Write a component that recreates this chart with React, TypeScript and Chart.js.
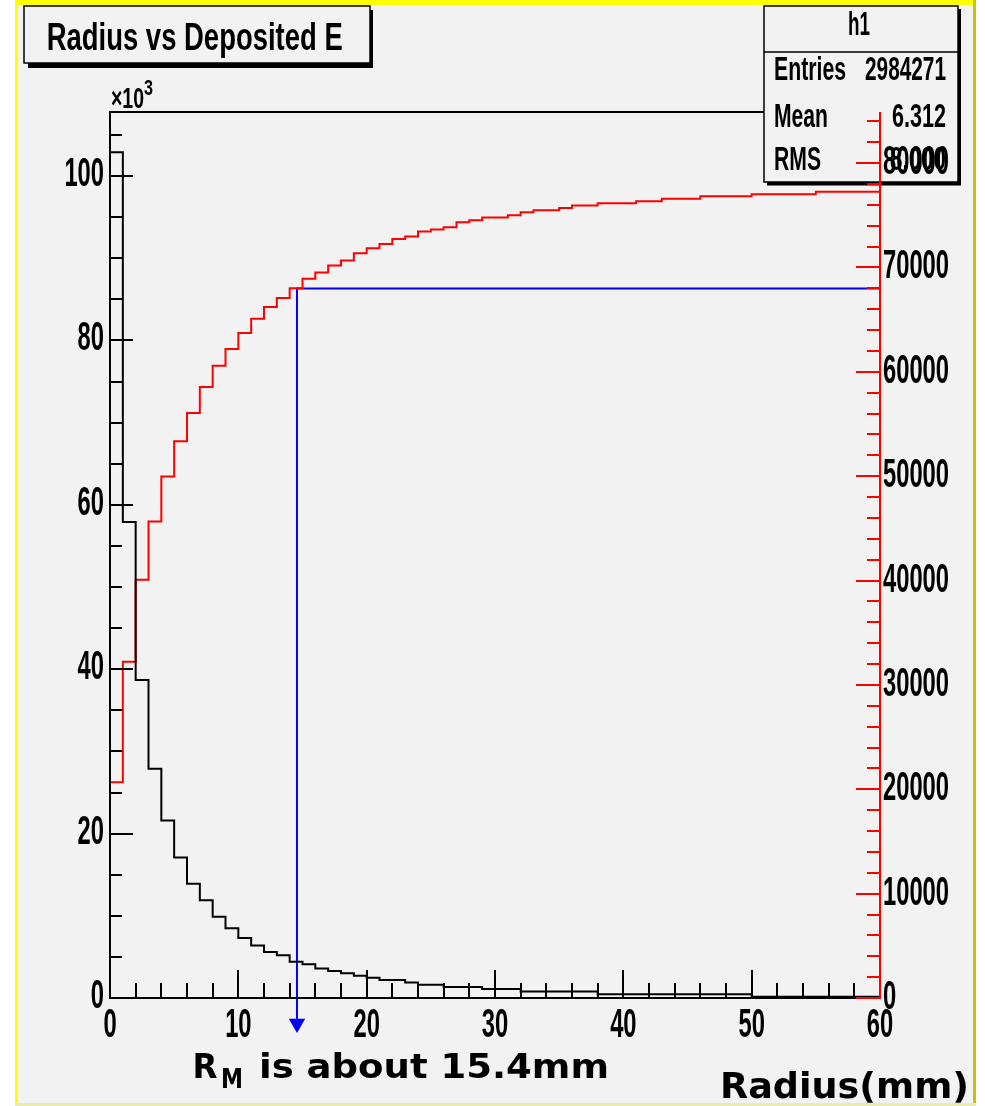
import React, { useEffect, useRef } from 'react';
import { Chart, registerables } from 'chart.js';

Chart.register(...registerables);

// ---- data ----
const X_MIN = 0;
const X_MAX = 60;
const BIN_WIDTH = 1; // mm

// energy per radial bin (x10^3), left axis
const DEPOSIT_K = [
  102.9, 57.9, 38.7, 27.9, 21.6, 17.1, 13.9, 11.9, 9.9, 8.5,
  7.3, 6.4, 5.6, 5.2, 4.4, 4.1, 3.6, 3.3, 3.0, 2.7,
  2.45, 2.2, 2.2, 1.9, 1.6, 1.6, 1.35, 1.35, 1.35, 1.1,
  1.1, 1.1, 0.8, 0.8, 0.8, 0.8, 0.8, 0.8, 0.45, 0.45,
  0.45, 0.45, 0.45, 0.45, 0.45, 0.45, 0.45, 0.45, 0.45, 0.45,
  0.16, 0.16, 0.16, 0.16, 0.16, 0.16, 0.16, 0.16, 0.16, 0.16,
];

// cumulative deposit, right (red) axis
const CUMULATIVE = [
  20680, 32210, 40080, 45670, 49980, 53340, 56060, 58550, 60590, 62190,
  63720, 65100, 66220, 67080, 68010, 68920, 69530, 70200, 70680, 71360,
  71840, 72260, 72740, 72960, 73440, 73630, 73860, 74330, 74530, 74780,
  74780, 75000, 75290, 75480, 75480, 75700, 75930, 75930, 76150, 76150,
  76150, 76350, 76350, 76580, 76580, 76580, 76830, 76830, 76830, 76830,
  77020, 77020, 77020, 77020, 77020, 77250, 77250, 77250, 77250, 77250,
];

const RM_X = 14.57;
const RM_LEVEL = 67980;
const RM_ARROW_END = -2450;

const Y_MAX = 107.8;
const Y2_MAX = 84900;

const X_LABELS = [0, 10, 20, 30, 40, 50, 60];
const Y_LABELS = [0, 20, 40, 60, 80, 100];
const Y2_LABELS = [0, 10000, 20000, 30000, 40000, 50000, 60000, 70000, 80000];

const X_MINOR_STEP = 2;
const X_MAJOR_STEP = 10;
const Y_MINOR_STEP = 5;
const Y_MAJOR_STEP = 20;
const Y2_MINOR_STEP = 2000;
const Y2_MAJOR_STEP = 10000;

const STATS_NAME = 'h1';
const STATS_ROWS: [string, string][] = [
  ['Entries', '2984271'],
  ['Mean', '6.312'],
  ['RMS', '8.000'],
];

const ROOT_FONT = '"Liberation Sans", Arial, sans-serif';
const NOTE_FONT = '"DejaVu Sans", Verdana, sans-serif';
const BG = '#f2f2f2';

type Opt = { w?: number; sx?: number; align?: 'left' | 'right' | 'center'; color?: string; family?: string };

function txt(ctx: CanvasRenderingContext2D, s: string, x: number, y: number, size: number, o: Opt = {}) {
  ctx.save();
  ctx.font = `bold ${size}px ${o.family || ROOT_FONT}`;
  const m = ctx.measureText(s).width;
  const sx = o.w ? o.w / m : o.sx ?? 1;
  const w = m * sx;
  let left = x;
  if (o.align === 'right') left = x - w;
  else if (o.align === 'center') left = x - w / 2;
  ctx.translate(left, y);
  ctx.scale(sx, 1);
  ctx.textAlign = 'left';
  ctx.textBaseline = 'alphabetic';
  ctx.fillStyle = o.color || '#000';
  ctx.fillText(s, 0, 0);
  ctx.restore();
}

function seg(ctx: CanvasRenderingContext2D, x1: number, y1: number, x2: number, y2: number) {
  ctx.beginPath();
  ctx.moveTo(x1, y1);
  ctx.lineTo(x2, y2);
  ctx.stroke();
}

function digitScale(ctx: CanvasRenderingContext2D, size: number, digitW: number) {
  ctx.save();
  ctx.font = `bold ${size}px ${ROOT_FONT}`;
  const w = ctx.measureText('0').width;
  ctx.restore();
  return digitW / w;
}

const rootPlugin = {
  id: 'rootLook',
  beforeDraw(chart: any) {
    const ctx: CanvasRenderingContext2D = chart.ctx;
    const W = chart.width;
    const H = chart.height;
    ctx.save();
    ctx.fillStyle = '#ffffff';
    ctx.fillRect(0, 0, W, H);
    ctx.fillStyle = BG;
    ctx.fillRect(16, 4, 958, H - 6);
    ctx.fillStyle = '#ffff00';
    ctx.fillRect(15, 0, 961, 5);
    ctx.fillRect(15, 0, 3, H);
    ctx.fillStyle = '#c4c400';
    ctx.fillRect(973, 0, 3, H);
    ctx.fillStyle = '#e8ecb0';
    ctx.fillRect(15, H - 3, 961, 3);
    ctx.restore();
  },
  afterDatasetsDraw(chart: any) {
    const ctx: CanvasRenderingContext2D = chart.ctx;
    const a = chart.chartArea;
    const { x, y, y2 } = chart.scales;
    ctx.save();

    // arrow head of the R_M marker (at the end of the blue dataset)
    const ax = x.getPixelForValue(RM_X);
    const ay = y2.getPixelForValue(RM_ARROW_END);
    const r = 9.5;
    ctx.fillStyle = '#0000ff';
    ctx.beginPath();
    ctx.moveTo(ax, ay + r);
    ctx.lineTo(ax - r * 0.866, ay - r / 2);
    ctx.lineTo(ax + r * 0.866, ay - r / 2);
    ctx.closePath();
    ctx.fill();

    ctx.strokeStyle = '#000';
    ctx.lineWidth = 2;
    ctx.lineCap = 'butt';
    seg(ctx, a.left, a.top, a.right, a.top);
    seg(ctx, a.left, a.top - 1, a.left, a.bottom + 1);
    seg(ctx, a.left - 1, a.bottom, a.right, a.bottom);

    for (let v = 0; v <= Y_MAX; v += Y_MINOR_STEP) {
      const py = Math.round(y.getPixelForValue(v));
      const len = v % Y_MAJOR_STEP === 0 ? 23 : 12;
      seg(ctx, a.left, py, a.left + len, py);
    }
    for (let v = X_MIN; v <= X_MAX; v += X_MINOR_STEP) {
      const px = Math.round(x.getPixelForValue(v));
      const len = v % X_MAJOR_STEP === 0 ? 28 : 15;
      seg(ctx, px, a.bottom, px, a.bottom - len);
    }

    const sx = digitScale(ctx, 41, 13.2);
    Y_LABELS.forEach((v) => {
      txt(ctx, String(v), a.left - 6, y.getPixelForValue(v) + 10, 41, { sx, align: 'right' });
    });
    X_LABELS.forEach((v) => {
      txt(ctx, String(v), x.getPixelForValue(v), a.bottom + 39, 41, { sx, align: 'center' });
    });

    // x10^3
    txt(ctx, '\u00d710', 111, 108, 30, { w: 33 });
    txt(ctx, '3', 144, 95, 22, { w: 9 });

    // title box
    ctx.fillStyle = '#000';
    ctx.fillRect(28, 63, 345, 5);
    ctx.fillRect(370, 10, 3, 58);
    ctx.fillStyle = BG;
    ctx.fillRect(24, 6, 346, 57);
    ctx.lineWidth = 1.5;
    ctx.strokeRect(24, 6, 346, 57);
    txt(ctx, 'Radius vs Deposited E', 46.7, 50, 39, { w: 296 });

    // stats box
    ctx.fillStyle = '#000';
    ctx.fillRect(767, 182, 194, 3.5);
    ctx.fillRect(958, 9, 3, 176);
    ctx.fillStyle = BG;
    ctx.fillRect(764, 6, 194, 176);
    ctx.lineWidth = 1.5;
    ctx.strokeRect(764, 6, 194, 176);
    seg(ctx, 764, 52, 958, 52);
    txt(ctx, STATS_NAME, 859, 35, 34, { w: 22, align: 'center' });
    const rowBase = [80, 127, 170];
    const nameW = [72, 54, 47];
    const valW = [81, 54, 56];
    STATS_ROWS.forEach(([n, v], i) => {
      txt(ctx, n, 774, rowBase[i], 34, { w: nameW[i] });
      txt(ctx, v, 946, rowBase[i], 34, { w: valW[i], align: 'right' });
    });

    // red right axis
    ctx.strokeStyle = '#ff0000';
    ctx.lineWidth = 2;
    seg(ctx, a.right, a.top, a.right, a.bottom + 1);
    for (let v = 0; v <= Y2_MAX; v += Y2_MINOR_STEP) {
      const py = Math.round(y2.getPixelForValue(v));
      const len = v % Y2_MAJOR_STEP === 0 ? 24 : 13;
      seg(ctx, a.right - len, py, a.right, py);
    }
    Y2_LABELS.forEach((v) => {
      txt(ctx, String(v), a.right + 3, y2.getPixelForValue(v) + 11, 41, { sx });
    });

    // annotations
    txt(ctx, 'R', 192.5, 1078, 33, { w: 25, family: NOTE_FONT });
    txt(ctx, 'M', 221, 1088, 27, { w: 22, family: NOTE_FONT });
    txt(ctx, 'is about 15.4mm', 259, 1078, 34, { w: 350, family: NOTE_FONT });
    txt(ctx, 'Radius(mm)', 720, 1098, 35, { w: 249, family: NOTE_FONT });
    ctx.restore();
  },
};

function histPoints(values: number[]) {
  const pts = values.map((v, i) => ({ x: X_MIN + i * BIN_WIDTH, y: v }));
  pts.push({ x: X_MAX, y: values[values.length - 1] });
  return pts;
}

export default function App() {
  const ref = useRef<HTMLCanvasElement>(null);
  useEffect(() => {
    document.body.style.margin = '0';
    const chart = new Chart(ref.current as HTMLCanvasElement, {
      type: 'line',
      data: {
        datasets: [
          {
            data: histPoints(DEPOSIT_K),
            yAxisID: 'y',
            borderColor: '#000000',
            borderWidth: 2,
            stepped: 'before',
            pointRadius: 0,
            fill: false,
          },
          {
            data: histPoints(CUMULATIVE),
            yAxisID: 'y2',
            borderColor: '#ff0000',
            borderWidth: 2,
            stepped: 'before',
            pointRadius: 0,
            fill: false,
          },
          {
            data: [
              { x: X_MAX, y: RM_LEVEL },
              { x: RM_X, y: RM_LEVEL },
              { x: RM_X, y: RM_ARROW_END },
            ],
            yAxisID: 'y2',
            borderColor: '#0000ff',
            borderWidth: 2,
            pointRadius: 0,
            fill: false,
            clip: false,
          } as any,
        ],
      },
      options: {
        animation: false,
        responsive: false,
        devicePixelRatio: 1,
        layout: { padding: { left: 110, right: 105, top: 112, bottom: 108 } },
        plugins: { legend: { display: false }, tooltip: { enabled: false }, title: { display: false } },
        elements: { line: { tension: 0 } },
        scales: {
          x: { type: 'linear', min: X_MIN, max: X_MAX, display: false },
          y: { type: 'linear', min: 0, max: Y_MAX, display: false },
          y2: { type: 'linear', min: 0, max: Y2_MAX, display: false },
        },
      },
      plugins: [rootPlugin],
    } as any);
    return () => chart.destroy();
  }, []);
  return <canvas ref={ref} width={985} height={1106} style={{ display: 'block', width: 985, height: 1106 }} />;
}
